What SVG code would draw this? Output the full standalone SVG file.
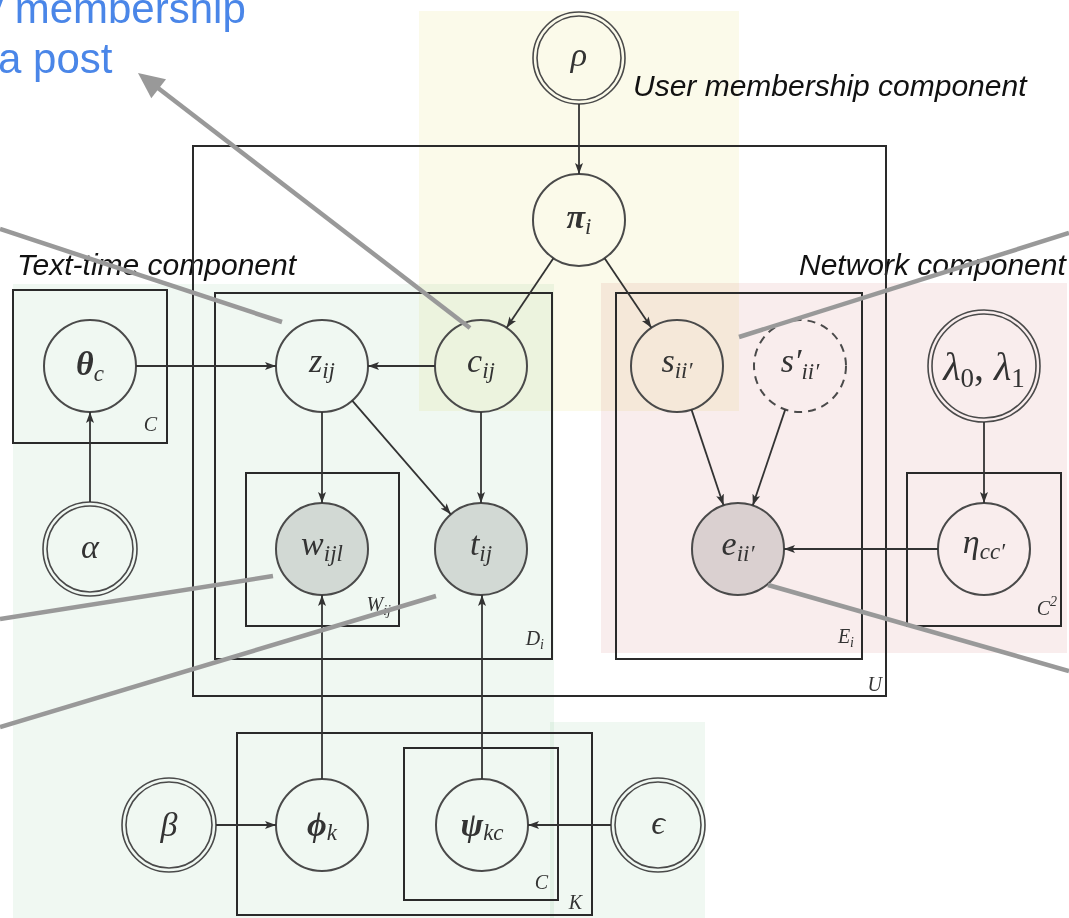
<svg xmlns="http://www.w3.org/2000/svg" width="1069" height="918" viewBox="0 0 1069 918">
<defs>
<style>
.bg{mix-blend-mode:multiply}
.plate{fill:none;stroke:#2a2a2a;stroke-width:2}
.node{fill:none;stroke:#4a4a4a;stroke-width:2}
.dbl{fill:none;stroke:#4a4a4a;stroke-width:1.6}
.obs{fill:#000;fill-opacity:.12;stroke:#4a4a4a;stroke-width:2}
.dash{fill:none;stroke:#4a4a4a;stroke-width:2;stroke-dasharray:8 6}
.edge{stroke:#333;stroke-width:1.8;fill:none;marker-end:url(#arr)}
.note{stroke:#999;stroke-width:4.5;fill:none}
.m{font-family:"Liberation Serif","DejaVu Serif",serif;font-style:italic;font-size:34px;fill:#333;text-anchor:middle}
.b{font-weight:bold}
.s{font-size:23px;font-weight:normal}
.up{font-style:normal}
.pl{font-family:"Liberation Serif","DejaVu Serif",serif;font-style:italic;font-size:20px;fill:#333;text-anchor:end}
.cap{font-family:"Liberation Sans",Arial,sans-serif;font-style:italic;font-size:30px;fill:#111}
.blue{font-family:"Liberation Sans",Arial,sans-serif;font-size:42px;fill:#4a86e8}
</style>
<marker id="arr" markerWidth="12" markerHeight="10" refX="11" refY="5" orient="auto" markerUnits="userSpaceOnUse">
<path d="M0,1 L11,5 L0,9 L2.5,5 z" fill="#333"/>
</marker>
</defs>

<!-- component shading -->
<g id="regions">
<rect class="bg" x="13" y="284" width="541" height="634" fill="#f0f8f2"/>
<rect class="bg" x="550" y="722" width="155" height="196" fill="#f0f8f2"/>
<rect class="bg" x="601" y="283" width="466" height="370" fill="#f9eded"/>
<rect class="bg" x="419" y="11" width="320" height="400" fill="#fbfaea"/>
</g>

<!-- side captions -->
<g id="captions">
<text class="blue" x="-18" y="23">y membership</text>
<text class="blue" x="-2" y="73">a post</text>
<text class="cap" x="633" y="96">User membership component</text>
<text class="cap" x="17" y="275">Text-time component</text>
<text class="cap" x="799" y="275">Network component</text>
</g>

<!-- plates -->
<g id="plates">
<g id="plate-U"><rect class="plate" x="193" y="146" width="693" height="550"/><text class="pl" x="882" y="691">U</text></g>
<g id="plate-D"><rect class="plate" x="215" y="293" width="337" height="366"/><text class="pl" x="544" y="645">D<tspan style="font-size:14px" dy="4">i</tspan></text></g>
<g id="plate-W"><rect class="plate" x="246" y="473" width="153" height="153"/><text class="pl" x="391" y="611">W<tspan style="font-size:14px" dy="4">ij</tspan></text></g>
<g id="plate-Ctheta"><rect class="plate" x="13" y="290" width="154" height="153"/><text class="pl" x="157" y="431">C</text></g>
<g id="plate-E"><rect class="plate" x="616" y="293" width="246" height="366"/><text class="pl" x="854" y="643">E<tspan style="font-size:14px" dy="4">i</tspan></text></g>
<g id="plate-C2"><rect class="plate" x="907" y="473" width="154" height="153"/><text class="pl" x="1057" y="615">C<tspan style="font-size:14px" dy="-9">2</tspan></text></g>
<g id="plate-K"><rect class="plate" x="237" y="733" width="355" height="182"/><text class="pl" x="582" y="909">K</text></g>
<g id="plate-Cpsi"><rect class="plate" x="404" y="748" width="154" height="152"/><text class="pl" x="548" y="889">C</text></g>
</g>

<!-- model nodes -->
<g id="nodes">
<g id="node-rho"><circle class="dbl" cx="579" cy="58" r="46"/><circle class="dbl" cx="579" cy="58" r="42"/><text class="m" x="579" y="66">ρ</text></g>
<g id="node-pi"><circle class="node" cx="579" cy="220" r="46"/><text class="m" x="579" y="228"><tspan class="b">π</tspan><tspan class="s" dy="6">i</tspan></text></g>
<g id="node-theta"><circle class="node" cx="90" cy="366" r="46"/><text class="m" x="90" y="375"><tspan class="b">θ</tspan><tspan class="s" dy="6">c</tspan></text></g>
<g id="node-alpha"><circle class="dbl" cx="90" cy="549" r="47"/><circle class="dbl" cx="90" cy="549" r="43"/><text class="m" x="90" y="558">α</text></g>
<g id="node-z"><circle class="node" cx="322" cy="366" r="46"/><text class="m" x="322" y="372">z<tspan class="s" dy="6">ij</tspan></text></g>
<g id="node-c"><circle class="node" cx="481" cy="366" r="46"/><text class="m" x="481" y="372">c<tspan class="s" dy="6">ij</tspan></text></g>
<g id="node-w"><circle class="obs" cx="322" cy="549" r="46"/><text class="m" x="322" y="555">w<tspan class="s" dy="6">ijl</tspan></text></g>
<g id="node-t"><circle class="obs" cx="481" cy="549" r="46"/><text class="m" x="481" y="555">t<tspan class="s" dy="6">ij</tspan></text></g>
<g id="node-s"><circle class="node" cx="677" cy="366" r="46"/><text class="m" x="677" y="372">s<tspan class="s" dy="6">ii′</tspan></text></g>
<g id="node-sprime"><circle class="dash" cx="800" cy="366" r="46"/><text class="m" x="800" y="372">s′<tspan class="s" dy="7">ii′</tspan></text></g>
<g id="node-e"><circle class="obs" cx="738" cy="549" r="46"/><text class="m" x="738" y="555">e<tspan class="s" dy="6">ii′</tspan></text></g>
<g id="node-lambda"><circle class="dbl" cx="984" cy="366" r="56"/><circle class="dbl" cx="984" cy="366" r="52"/><text class="m" x="984" y="380" style="font-size:40px">λ<tspan class="up" style="font-size:27px" dy="7">0</tspan><tspan class="up" dy="-7">, </tspan>λ<tspan class="up" style="font-size:27px" dy="7">1</tspan></text></g>
<g id="node-eta"><circle class="node" cx="984" cy="549" r="46"/><text class="m" x="984" y="553">η<tspan class="s" dy="6">cc′</tspan></text></g>
<g id="node-beta"><circle class="dbl" cx="169" cy="825" r="47"/><circle class="dbl" cx="169" cy="825" r="43"/><text class="m" x="169" y="836">β</text></g>
<g id="node-phi"><circle class="node" cx="322" cy="825" r="46"/><text class="m" x="322" y="836"><tspan class="b">ϕ</tspan><tspan class="s" dy="4">k</tspan></text></g>
<g id="node-psi"><circle class="node" cx="482" cy="825" r="46"/><text class="m" x="482" y="836"><tspan class="b">ψ</tspan><tspan class="s" dy="4">kc</tspan></text></g>
<g id="node-eps"><circle class="dbl" cx="658" cy="825" r="47"/><circle class="dbl" cx="658" cy="825" r="43"/><text class="m" x="658" y="834">ϵ</text></g>
</g>

<!-- dependencies -->
<g id="connectors">
<line class="edge" x1="579" y1="104" x2="579" y2="174"/>
<line class="edge" x1="553.4" y1="258.2" x2="506.6" y2="327.8"/>
<line class="edge" x1="604.6" y1="258.2" x2="651.4" y2="327.8"/>
<line class="edge" x1="136" y1="366" x2="276" y2="366"/>
<line class="edge" x1="435" y1="366" x2="368" y2="366"/>
<line class="edge" x1="322" y1="412" x2="322" y2="503"/>
<line class="edge" x1="352.2" y1="400.7" x2="450.8" y2="514.3"/>
<line class="edge" x1="481" y1="412" x2="481" y2="503"/>
<line class="edge" x1="90" y1="502" x2="90" y2="412"/>
<line class="edge" x1="322" y1="779" x2="322" y2="595"/>
<line class="edge" x1="482" y1="779" x2="482" y2="595"/>
<line class="edge" x1="216" y1="825" x2="276" y2="825"/>
<line class="edge" x1="611" y1="825" x2="528" y2="825"/>
<line class="edge" x1="984" y1="422" x2="984" y2="503"/>
<line class="edge" x1="938" y1="549" x2="784" y2="549"/>
<line class="edge" x1="691.5" y1="409.6" x2="723.5" y2="505.3"/>
<line class="edge" x1="785.2" y1="409.6" x2="752.8" y2="505.4"/>
</g>

<!-- callout lines -->
<g id="callouts">
<line class="note" x1="470" y1="328" x2="158" y2="88"/>
<polygon points="138,73 166,79.3 151.3,98.3" fill="#999"/>
<line class="note" x1="0" y1="229" x2="282" y2="322"/>
<line class="note" x1="739" y1="337" x2="1069" y2="233"/>
<line class="note" x1="273" y1="576" x2="0" y2="619"/>
<line class="note" x1="436" y1="596" x2="0" y2="727"/>
<line class="note" x1="768" y1="585" x2="1069" y2="671"/>
</g>
</svg>
